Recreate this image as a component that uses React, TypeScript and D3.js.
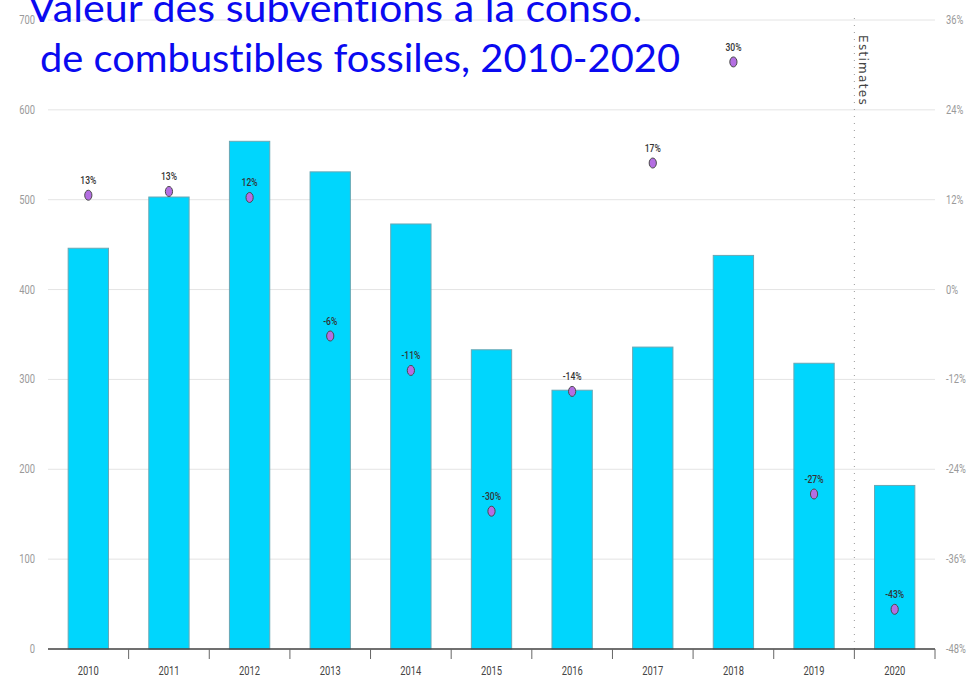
import React from "react";
import * as d3 from "d3";

const years = ["2010", "2011", "2012", "2013", "2014", "2015", "2016", "2017", "2018", "2019", "2020"];
const subsidies = [446, 503, 565, 531, 473, 333, 288, 336, 438, 318, 182];
const changePct = [12.6, 13.1, 12.3, -6.2, -10.8, -29.6, -13.6, 16.9, 30.4, -27.3, -42.7];
const leftTicks = [0, 100, 200, 300, 400, 500, 600, 700];
const rightTicks = [-48, -36, -24, -12, 0, 12, 24, 36];
const titleLines = ["Valeur des subventions à la conso.", "de combustibles fossiles, 2010-2020"];

const W = 976;
const H = 679;
const M = { left: 48, right: 935, top: 20, bottom: 649 };
const FONT = "Roboto, 'Liberation Sans', sans-serif";

function Narrow(props: { x: number; y: number; anchor: "start" | "middle" | "end"; size: number; fill: string; weight?: number; children: React.ReactNode }) {
  return (
    <text
      transform={`translate(${props.x},${props.y}) scale(0.78,1)`}
      textAnchor={props.anchor}
      fontSize={props.size}
      fill={props.fill}
      fontWeight={props.weight ?? 400}
      fontFamily={FONT}
    >
      {props.children}
    </text>
  );
}

export default function App() {
  const x = d3.scaleBand<string>().domain(years).range([M.left, M.right]).paddingInner(0.5).paddingOuter(0.25);
  const yL = d3.scaleLinear().domain([0, 700]).range([M.bottom, M.top]);
  const yR = d3.scaleLinear().domain([-48, 36]).range([M.bottom, M.top]);
  const boundaries = years.map((_, i) => M.left + (i + 1) * ((M.right - M.left) / years.length));
  const estX = boundaries[9];
  const titleStyle: React.CSSProperties = { fontVariantLigatures: "none", fontFeatureSettings: "'liga' 0, 'clig' 0" };

  return (
    <svg width={W} height={H} style={{ position: "absolute", left: 0, top: 0, background: "#fff" }}>
      {leftTicks.map((t) => (
        <line key={"g" + t} x1={M.left} x2={M.right} y1={yL(t)} y2={yL(t)} stroke="#e4e4e4" strokeWidth={1} />
      ))}
      {leftTicks.map((t) => (
        <Narrow key={"l" + t} x={35} y={yL(t) + 4} anchor="end" size={12} fill="#9a9a9a">
          {t}
        </Narrow>
      ))}
      {rightTicks.map((t) => (
        <Narrow key={"r" + t} x={946} y={yR(t) + 4} anchor="start" size={12} fill="#9a9a9a">
          {t + "%"}
        </Narrow>
      ))}
      {years.map((yr, i) => (
        <rect
          key={"b" + yr}
          x={x(yr)!}
          y={yL(subsidies[i])}
          width={x.bandwidth()}
          height={yL(0) - yL(subsidies[i])}
          fill="#00d6fd"
          stroke="#6aa7b4"
          strokeWidth={1}
        />
      ))}
      <line x1={estX} x2={estX} y1={18} y2={M.bottom} stroke="#9a9a9a" strokeWidth={1} strokeDasharray="1,6" />
      <text
        transform={`translate(${estX + 5},${35}) rotate(90)`}
        fontSize={12}
        fill="#444"
        fontFamily="'DejaVu Sans', sans-serif"
        letterSpacing={1.3}
      >
        Estimates
      </text>
      <line x1={M.left} x2={M.right} y1={M.bottom} y2={M.bottom} stroke="#444" strokeWidth={1.5} />
      {boundaries.map((b, i) => (
        <line key={"t" + i} x1={b} x2={b} y1={M.bottom} y2={M.bottom + 10} stroke="#666" strokeWidth={1} />
      ))}
      {years.map((yr) => (
        <Narrow key={"x" + yr} x={x(yr)! + x.bandwidth() / 2} y={675} anchor="middle" size={12} fill="#444">
          {yr}
        </Narrow>
      ))}
      {years.map((yr, i) => {
        const cx = x(yr)! + x.bandwidth() / 2;
        const cy = yR(changePct[i]);
        return (
          <g key={"p" + yr}>
            <ellipse cx={cx} cy={cy} rx={3.6} ry={5} fill="#b46ee2" stroke="#4a4a4a" strokeWidth={1} />
            <Narrow x={cx} y={cy - 11} anchor="middle" size={11} fill="#333" weight={500}>
              {Math.round(changePct[i]) + "%"}
            </Narrow>
          </g>
        );
      })}
      <text x={28} y={22} fontSize={38} fill="#0a0af0" fontFamily="Lato, 'Open Sans', sans-serif" textLength={614} lengthAdjust="spacingAndGlyphs" style={titleStyle}>
        {titleLines[0]}
      </text>
      <text x={40} y={72} fontSize={38} fill="#0a0af0" fontFamily="Lato, 'Open Sans', sans-serif" textLength={640} lengthAdjust="spacingAndGlyphs" style={titleStyle}>
        {titleLines[1]}
      </text>
    </svg>
  );
}
